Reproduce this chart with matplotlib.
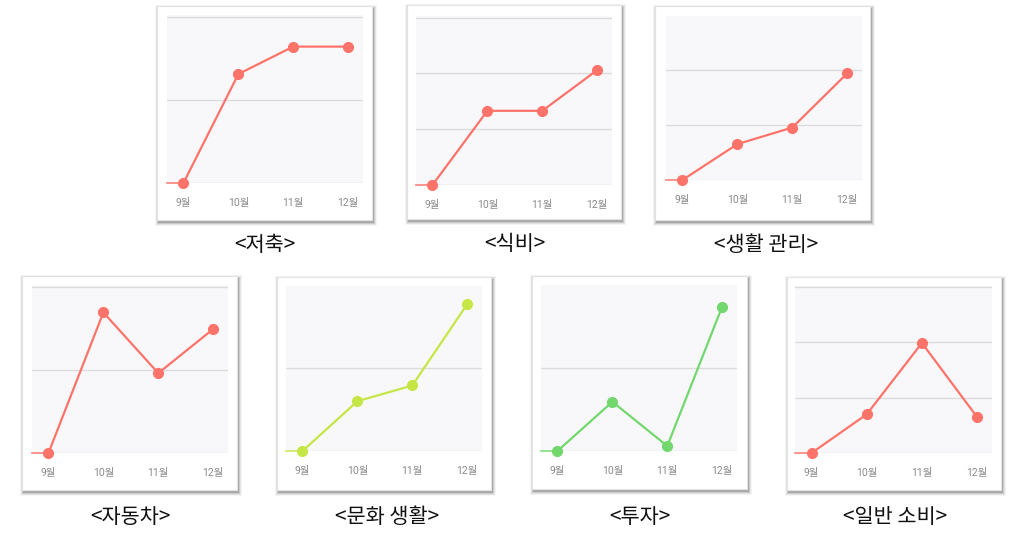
import matplotlib
matplotlib.use("Agg")
import matplotlib.pyplot as plt
from matplotlib.patches import Rectangle

plt.rcParams['font.family'] = ['Noto Sans CJK KR', 'DejaVu Sans']

W, H = 1025, 553

months = ['9월', '10월', '11월', '12월']

titles = ['<저축>', '<식비>', '<생활 관리>', '<자동차>', '<문화 생활>', '<투자>', '<일반 소비>']

savings = [0, 1.31, 1.64, 1.64]
food = [0, 1.33, 1.33, 2.06]
living = [0, 0.65, 0.95, 1.93]
car = [0, 1.69, 0.96, 1.49]
culture = [0, 0.60, 0.79, 1.77]
invest = [0, 0.59, 0.06, 1.73]
general = [0, 0.70, 1.99, 0.65]
series = [savings, food, living, car, culture, invest, general]

red = '#fe7369'
lime = '#c6e646'
green = '#72d86e'
colors = [red, red, red, red, lime, green, red]

# pixel layout: card box, plot box (left, right, top, zero line), y top, caption centre
layout = [
    dict(card=(157, 372, 6, 220), plot=(167, 363, 15, 183), ytop=2.02, cap=(265, 245)),
    dict(card=(407, 621, 5, 219), plot=(416, 612, 16, 185), ytop=3.03, cap=(515, 244)),
    dict(card=(655, 870, 6, 220), plot=(666, 862, 16, 180), ytop=2.97, cap=(766, 245)),
    dict(card=(22, 237, 276, 490), plot=(32, 228, 285, 453), ytop=2.02, cap=(130, 517)),
    dict(card=(277, 491, 277, 490), plot=(286, 482, 286, 451), ytop=1.99, cap=(387, 517)),
    dict(card=(532, 747, 276, 489), plot=(541, 737, 285, 451), ytop=1.99, cap=(640, 517)),
    dict(card=(787, 1001, 277, 490), plot=(795, 992, 286, 453), ytop=3.02, cap=(895, 517)),
]

fig = plt.figure(figsize=(W / 100, H / 100), dpi=100)
fig.patch.set_facecolor('white')


def fx(px):
    return px / W


def fy(py):
    return 1 - py / H


for vals, col, title, lay in zip(series, colors, titles, layout):
    l, r, t, b = lay['card']
    # soft shadow, heavier to the lower right
    for k, a in [(4, 0.04), (3, 0.07), (2, 0.11), (1, 0.16)]:
        fig.patches.append(Rectangle((fx(l - k + 2), fy(b + k + 2)), fx(r - l + 2 * k - 1), (b - t + 2 * k - 1) / H,
                                     transform=fig.transFigure, facecolor='black', alpha=a,
                                     edgecolor='none', zorder=0))
    fig.patches.append(Rectangle((fx(l), fy(b)), fx(r - l), (b - t) / H, transform=fig.transFigure,
                                 facecolor='white', edgecolor='#e2e2e2', linewidth=0.8, zorder=1))

    pl, pr, pt, pb = lay['plot']
    ax = fig.add_axes([fx(pl), fy(pb), fx(pr - pl), (pb - pt) / H], zorder=2)
    ax.set_facecolor('#f8f8fa')
    x = list(range(len(months)))
    ax.set_xlim(-0.3, 3.27)
    ax.set_ylim(0, lay['ytop'])
    for g in range(int(lay['ytop']) + 1):
        ax.axhline(g, color='#dcdcdc', linewidth=1, zorder=1)
    # lead-in segment from the left edge to the first point
    ax.plot([ax.get_xlim()[0], x[0]], [vals[0], vals[0]], color=col, linewidth=1.3, alpha=0.8, zorder=2,
            clip_on=False)
    ax.plot(x, vals, color=col, linewidth=1.6, marker='o', markersize=7, zorder=3, clip_on=False)
    for s in ax.spines.values():
        s.set_visible(False)
    ax.set_yticks([])
    ax.set_xticks(x)
    ax.set_xticklabels(months, fontsize=7.5, color='#8a8a8a', family=['Roboto', 'Noto Sans CJK KR'])
    ax.tick_params(axis='x', length=0, pad=11)

    cx, cy = lay['cap']
    fig.text(fx(cx), fy(cy), title, ha='center', va='center', fontsize=15, color='#111111',
             fontweight='light')

fig.savefig('out.png', dpi=100, facecolor='white')
